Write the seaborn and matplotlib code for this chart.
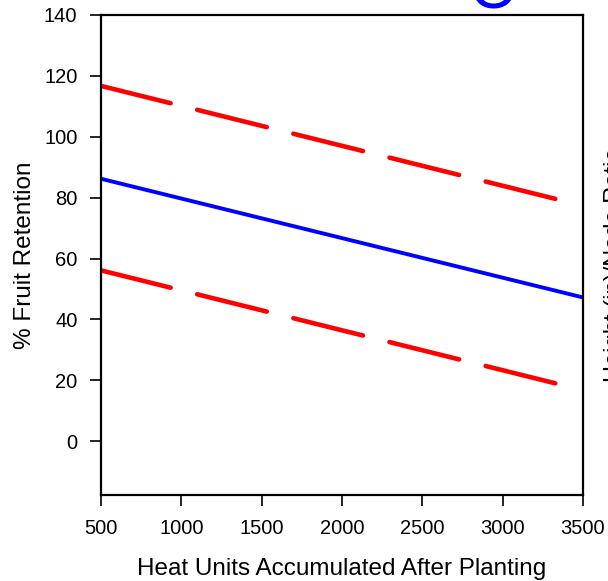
import matplotlib
matplotlib.use("Agg")
import matplotlib.pyplot as plt
import seaborn as sns
import pandas as pd

# values
heat_units = [500, 3500]
retention = [86.2, 47.2]
band_units = [500, 3350]
upper_limit = [116.7, 79.3]
lower_limit = [56.1, 18.7]
x_ticks = [500, 1000, 1500, 2000, 2500, 3000, 3500]
y_ticks = [0, 20, 40, 60, 80, 100, 120, 140]

sns.set_theme(style="white")
plt.rcParams['font.family'] = ['Liberation Sans', 'DejaVu Sans']

fig = plt.figure(figsize=(6.08, 5.81), dpi=100)
ax = fig.add_axes([0.1661, 0.148, 0.7928, 0.8262])

mean_df = pd.DataFrame({'heat': heat_units, 'fr': retention})
band_df = pd.DataFrame({'heat': band_units * 2,
                        'fr': upper_limit + lower_limit,
                        'limit': ['upper'] * 2 + ['lower'] * 2})

sns.lineplot(data=mean_df, x='heat', y='fr', color='#0000ff', linewidth=2.8, ax=ax)
for name, grp in band_df.groupby('limit'):
    sns.lineplot(data=grp, x='heat', y='fr', color='#ff0000', linewidth=3.3,
                 dashes=False, ax=ax)
for line in ax.lines[1:]:
    line.set_dashes((15.66, 5.96))
    line.set_dash_capstyle('round')

ax.set_xlim(500, 3500)
ax.set_ylim(-17.7, 140)
ax.set_xticks(x_ticks)
ax.set_yticks(y_ticks)
ax.tick_params(axis='both', direction='out', length=8, width=1.2, color='black',
               labelsize=14.5, labelcolor='black', pad=9,
               bottom=True, left=True)
for sp in ax.spines.values():
    sp.set_color('black')
    sp.set_linewidth(1.6)

ax.set_xlabel('Heat Units Accumulated After Planting', fontsize=17.5,
              color='black', labelpad=15)
ax.set_ylabel('% Fruit Retention', fontsize=17.5, color='black', labelpad=6)

# clipped pieces visible at the edges of the original slide
fig.text(0.811, 0.986, 'O', color='#0000ff', fontsize=44, ha='center', va='baseline')
fig.text(0.994, 0.544, 'Height (in)/Node Ratio', rotation=90, fontsize=17,
         color='black', ha='left', va='center')

fig.savefig('out.png', dpi=100)
